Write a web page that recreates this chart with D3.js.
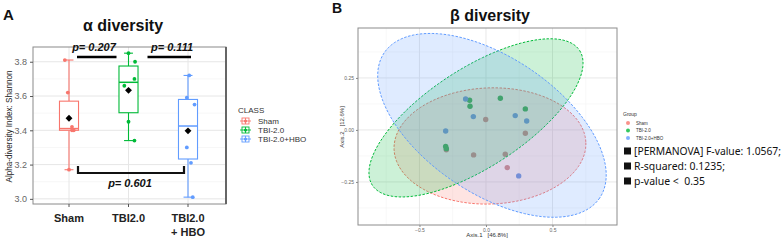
<!DOCTYPE html>
<html><head><meta charset="utf-8">
<script src="https://cdn.jsdelivr.net/npm/d3@7/dist/d3.min.js"></script>
<style>body{margin:0;background:#fff}svg{display:block}text{white-space:pre}</style>
</head><body>
<svg id="c" width="784" height="240"></svg>
<script>
// ---------- DATA ----------
const classes = ["Sham", "TBI-2.0", "TBI-2.0+HBO"];
const classColors = ["#F8766D", "#00BA38", "#619CFF"];
const tickLabelsA = [["Sham"], ["TBI2.0"], ["TBI2.0", "+ HBO"]];
const shamValues = [3.81, 3.62, 3.42, 3.40, 3.40, 3.17];
const tbiValues = [3.85, 3.80, 3.70, 3.66, 3.45, 3.34];
const hboValues = [3.72, 3.59, 3.55, 3.30, 3.21, 3.01];
const shamJitter = [-0.07, -0.02, 0.05, 0.08, 0.05, 0.0];
const tbiJitter = [0.0, 0.11, 0.10, -0.07, 0.0, 0.10];
const hboJitter = [0.02, -0.02, 0.11, -0.02, 0.05, 0.08];
const yTicksA = [3.0, 3.2, 3.4, 3.6, 3.8];
const pLabels = ["p= 0.207", "p= 0.111", "p= 0.601"];

// beta diversity (PCoA)
const shamPC1 = [-0.002, 0.296, -0.093, 0.145, 0.160, -0.298];
const shamPC2 = [0.050, -0.016, -0.120, -0.117, -0.181, -0.095];
const tbiPC1 = [-0.123, -0.120, 0.108, 0.296, -0.303, -0.298];
const tbiPC2 = [0.143, 0.114, 0.152, 0.101, -0.080, -0.090];
const hboPC1 = [-0.153, -0.095, -0.303, 0.220, 0.306, 0.246];
const hboPC2 = [0.149, 0.064, -0.005, 0.069, 0.043, -0.221];
// confidence ellipses: centre and two semi-axis vectors (data units)
const ellipseCentre = [[0.03, -0.077], [-0.075, 0.058], [0.045, 0.022]];
const ellipseAxisU = [[0.721, 0.016], [0.779, 0.324], [0.810, -0.349]];
const ellipseAxisV = [[0.015, -0.279], [0.202, -0.199], [-0.286, -0.271]];
const xTicksB = [-0.5, 0.0, 0.5];
const yTicksB = [-0.25, 0.0, 0.25];
const statLines = ["[PERMANOVA] F-value: 1.0567;", "R-squared: 0.1235;", "p-value <  0.35"];
const statWidths = [147, 91, 71];

const svg = d3.select("#c");
const valuesA = [shamValues, tbiValues, hboValues];
const jitterA = [shamJitter, tbiJitter, hboJitter];

// ---------- PANEL A ----------
const A = {l: 33, r: 226, t: 47, b: 204};
const xA = d3.scalePoint().domain(classes).range([69, 188]);
const stepA = xA.step();
const yA = d3.scaleLinear().domain([2.97, 3.886]).range([A.b, A.t]);

svg.append("text").attr("x", 3).attr("y", 20).text("A")
  .attr("font-family", "Liberation Sans, Arial").attr("font-weight", "bold").attr("font-size", 15).attr("fill", "#111");
svg.append("text").attr("x", 123).attr("y", 31).attr("text-anchor", "middle").text("α diversity")
  .attr("font-family", "Liberation Sans, Arial").attr("font-weight", "bold").attr("font-size", 16).attr("fill", "#111");

const gA = svg.append("g");
gA.append("rect").attr("x", A.l).attr("y", A.t).attr("width", A.r - A.l).attr("height", A.b - A.t).attr("fill", "#fff");
// grid
const minorA = d3.range(3.1, 3.9, 0.2);
gA.selectAll(".mn").data(minorA).join("line").attr("x1", A.l).attr("x2", A.r)
  .attr("y1", d => yA(d)).attr("y2", d => yA(d)).attr("stroke", "#f2f2f2").attr("stroke-width", 0.6);
gA.selectAll(".mj").data(yTicksA).join("line").attr("x1", A.l).attr("x2", A.r)
  .attr("y1", d => yA(d)).attr("y2", d => yA(d)).attr("stroke", "#e6e6e6").attr("stroke-width", 1);
gA.selectAll(".vx").data(classes).join("line").attr("x1", d => xA(d)).attr("x2", d => xA(d))
  .attr("y1", A.t).attr("y2", A.b).attr("stroke", "#e6e6e6").attr("stroke-width", 1);
// border
gA.append("rect").attr("x", A.l).attr("y", A.t).attr("width", A.r - A.l).attr("height", A.b - A.t)
  .attr("fill", "none").attr("stroke", "#8a8a8a").attr("stroke-width", 1);
gA.append("line").attr("x1", A.r).attr("x2", A.r).attr("y1", A.t).attr("y2", A.b).attr("stroke", "#666").attr("stroke-width", 2);
// y axis
const axA = gA.append("g").attr("transform", `translate(${A.l},0)`)
  .call(d3.axisLeft(yA).tickValues(yTicksA).tickFormat(d3.format(".1f")).tickSize(3).tickPadding(3));
axA.select(".domain").remove();
axA.selectAll("line").attr("stroke", "#555");
axA.selectAll("text").attr("font-family", "Liberation Sans, Arial").attr("font-size", 9).attr("fill", "#666");
// x axis ticks
gA.selectAll(".xt").data(classes).join("line").attr("x1", d => xA(d)).attr("x2", d => xA(d))
  .attr("y1", A.b).attr("y2", A.b + 3).attr("stroke", "#555");
classes.forEach((c, i) => {
  const t = gA.append("text").attr("x", xA(c)).attr("y", 222).attr("text-anchor", "middle")
    .attr("font-family", "Liberation Sans, Arial").attr("font-weight", "bold").attr("font-size", 11).attr("fill", "#222");
  tickLabelsA[i].forEach((s, j) => t.append("tspan").attr("x", xA(c)).attr("dy", j === 0 ? 0 : 14).text(s));
});
svg.append("text").attr("transform", `translate(12,${(A.t + A.b) / 2 + 1}) rotate(-90)`).attr("text-anchor", "middle")
  .text("Alpha-diversity Index: Shannon")
  .attr("textLength", 112).attr("lengthAdjust", "spacingAndGlyphs")
  .attr("font-family", "Liberation Sans, Arial").attr("font-size", 9.5).attr("fill", "#222");

// boxes
const bw = 0.16 * stepA, cap = 0.075 * stepA;
classes.forEach((c, i) => {
  const v = valuesA[i].slice().sort(d3.ascending);
  const q1 = d3.quantile(v, 0.25), med = d3.quantile(v, 0.5), q3 = d3.quantile(v, 0.75);
  const lo = d3.min(v), hi = d3.max(v), mean = d3.mean(v);
  const cx = xA(c), col = classColors[i];
  const g = gA.append("g").attr("stroke", col).attr("stroke-width", 1.1).attr("fill", "none");
  g.append("line").attr("x1", cx).attr("x2", cx).attr("y1", yA(hi)).attr("y2", yA(q3));
  g.append("line").attr("x1", cx).attr("x2", cx).attr("y1", yA(q1)).attr("y2", yA(lo));
  g.append("line").attr("x1", cx - cap).attr("x2", cx + cap).attr("y1", yA(hi)).attr("y2", yA(hi));
  g.append("line").attr("x1", cx - cap).attr("x2", cx + cap).attr("y1", yA(lo)).attr("y2", yA(lo));
  g.append("rect").attr("x", cx - bw).attr("width", 2 * bw).attr("y", yA(q3)).attr("height", yA(q1) - yA(q3)).attr("fill", "#fff");
  g.append("line").attr("x1", cx - bw).attr("x2", cx + bw).attr("y1", yA(med)).attr("y2", yA(med)).attr("stroke-width", 1.5);
  gA.selectAll(null).data(valuesA[i]).join("circle")
    .attr("cx", (d, k) => cx + jitterA[i][k] * stepA).attr("cy", d => yA(d)).attr("r", 1.9).attr("fill", col);
  gA.append("path").attr("d", d3.symbol(d3.symbolDiamond2, 30)()).attr("transform", `translate(${cx},${yA(mean)})`).attr("fill", "#000");
});

// significance bars
const pf = {"font-family": "Liberation Sans, Arial", "font-weight": "bold", "font-style": "italic", "font-size": 11, "fill": "#111"};
function ptext(x, y, s) {
  const t = svg.append("text").attr("x", x).attr("y", y).attr("text-anchor", "middle").text(s);
  Object.entries(pf).forEach(([k, v]) => t.attr(k, v));
}
const barY = 57;
svg.append("line").attr("x1", xA(classes[0]) + 8).attr("x2", xA(classes[1]) - 12).attr("y1", barY).attr("y2", barY).attr("stroke", "#000").attr("stroke-width", 2.6);
svg.append("line").attr("x1", xA(classes[1]) + 19).attr("x2", xA(classes[2]) + 3).attr("y1", barY).attr("y2", barY).attr("stroke", "#000").attr("stroke-width", 2.6);
ptext(94, 51, pLabels[0]);
ptext(172, 51, pLabels[1]);
const brY = 173;
svg.append("path").attr("d", `M${xA(classes[0]) + 9},${brY - 7}V${brY}H${xA(classes[2]) - 4}V${brY - 7}`)
  .attr("fill", "none").attr("stroke", "#111").attr("stroke-width", 2.2);
ptext(130, 187, pLabels[2]);

// legend A
const lgA = svg.append("g").attr("transform", "translate(238,0)");
lgA.append("text").attr("x", 0).attr("y", 113).text("CLASS")
  .attr("font-family", "Liberation Sans, Arial").attr("font-size", 8).attr("fill", "#333");
classes.forEach((c, i) => {
  const y = 121 + i * 9, col = classColors[i];
  const g = lgA.append("g").attr("stroke", col).attr("fill", "none").attr("stroke-width", 0.9);
  g.append("line").attr("x1", 2).attr("x2", 13).attr("y1", y).attr("y2", y);
  g.append("rect").attr("x", 4).attr("y", y - 3).attr("width", 7).attr("height", 6).attr("fill", "#fff");
  g.append("line").attr("x1", 7.5).attr("x2", 7.5).attr("y1", y - 3).attr("y2", y + 3);
  g.append("line").attr("x1", 4).attr("x2", 11).attr("y1", y).attr("y2", y);
  lgA.append("circle").attr("cx", 7.5).attr("cy", y).attr("r", 1.6).attr("fill", col);
  lgA.append("text").attr("x", 20).attr("y", y + 3).text(c)
    .attr("font-family", "Liberation Sans, Arial").attr("font-size", 8).attr("fill", "#333");
});

// ---------- PANEL B ----------
const B = {l: 358, r: 617, t: 28, b: 225};
const xB = d3.scaleLinear().domain([-0.962, 0.985]).range([B.l, B.r]);
const yB = d3.scaleLinear().domain([-0.457, 0.49]).range([B.b, B.t]);

svg.append("text").attr("x", 332).attr("y", 13).text("B")
  .attr("font-family", "Liberation Sans, Arial").attr("font-weight", "bold").attr("font-size", 14).attr("fill", "#111");
svg.append("text").attr("x", 490).attr("y", 21).attr("text-anchor", "middle").text("β diversity")
  .attr("font-family", "Liberation Sans, Arial").attr("font-weight", "bold").attr("font-size", 16).attr("fill", "#111");

const gB = svg.append("g");
gB.append("clipPath").attr("id", "clipB").append("rect").attr("x", B.l).attr("y", B.t).attr("width", B.r - B.l).attr("height", B.b - B.t);
const minorXB = [-0.75, -0.25, 0.25, 0.75], minorYB = [-0.375, -0.125, 0.125, 0.375];
gB.selectAll(".mx").data(minorXB).join("line").attr("x1", d => xB(d)).attr("x2", d => xB(d)).attr("y1", B.t).attr("y2", B.b).attr("stroke", "#f3f3f3").attr("stroke-width", 0.6);
gB.selectAll(".my").data(minorYB).join("line").attr("y1", d => yB(d)).attr("y2", d => yB(d)).attr("x1", B.l).attr("x2", B.r).attr("stroke", "#f3f3f3").attr("stroke-width", 0.6);
gB.selectAll(".jx").data(xTicksB).join("line").attr("x1", d => xB(d)).attr("x2", d => xB(d)).attr("y1", B.t).attr("y2", B.b).attr("stroke", "#e8e8e8").attr("stroke-width", 1);
gB.selectAll(".jy").data(yTicksB).join("line").attr("y1", d => yB(d)).attr("y2", d => yB(d)).attr("x1", B.l).attr("x2", B.r).attr("stroke", "#e8e8e8").attr("stroke-width", 1);

const pcs = [[shamPC1, shamPC2], [tbiPC1, tbiPC2], [hboPC1, hboPC2]];
// points
const pCols = ["#c98585", "#1faa48", "#5b93e6"];
pcs.forEach(([px, py], i) => {
  gB.selectAll(null).data(px).join("circle").attr("cx", d => xB(d)).attr("cy", (d, k) => yB(py[k])).attr("r", 2.7).attr("fill", pCols[i]);
});
// ellipses
const line = d3.line().curve(d3.curveLinearClosed);
const ts = d3.range(0, 2 * Math.PI, Math.PI / 60);
const eg = gB.append("g").attr("clip-path", "url(#clipB)");
classes.forEach((c, i) => {
  const [cx, cy] = ellipseCentre[i], u = ellipseAxisU[i], v = ellipseAxisV[i];
  const pts = ts.map(t => [xB(cx + u[0] * Math.cos(t) + v[0] * Math.sin(t)), yB(cy + u[1] * Math.cos(t) + v[1] * Math.sin(t))]);
  eg.append("path").attr("d", line(pts)).attr("fill", classColors[i]).attr("fill-opacity", 0.2)
    .attr("stroke", classColors[i]).attr("stroke-width", 1).attr("stroke-dasharray", "2.5,1.5");
});
gB.append("rect").attr("x", B.l).attr("y", B.t).attr("width", B.r - B.l).attr("height", B.b - B.t)
  .attr("fill", "none").attr("stroke", "#8c8c8c").attr("stroke-width", 1);
const axBy = gB.append("g").attr("transform", `translate(${B.l},0)`)
  .call(d3.axisLeft(yB).tickValues(yTicksB).tickFormat(d3.format(".2f")).tickSize(2).tickPadding(2));
const axBx = gB.append("g").attr("transform", `translate(0,${B.b})`)
  .call(d3.axisBottom(xB).tickValues(xTicksB).tickFormat(d3.format(".1f")).tickSize(2).tickPadding(1));
[axBy, axBx].forEach(a => {
  a.select(".domain").remove();
  a.selectAll("line").attr("stroke", "#888");
  a.selectAll("text").attr("font-family", "Liberation Sans, Arial").attr("font-size", 5).attr("fill", "#666");
});
svg.append("text").attr("x", 487).attr("y", 237).attr("text-anchor", "middle").text("Axis.1   [46.8%]")
  .attr("font-family", "Liberation Sans, Arial").attr("font-size", 6).attr("fill", "#333");
svg.append("text").attr("transform", `translate(344,127) rotate(-90)`).attr("text-anchor", "middle").text("Axis.2   [12.6%]")
  .attr("font-family", "Liberation Sans, Arial").attr("font-size", 6).attr("fill", "#333");

// legend B
const lgB = svg.append("g").attr("transform", "translate(623,0)");
lgB.append("text").attr("x", 0).attr("y", 116).text("Group").attr("font-family", "Liberation Sans, Arial").attr("font-size", 5).attr("fill", "#333");
classes.forEach((c, i) => {
  const y = 123 + i * 7.5;
  lgB.append("circle").attr("cx", 5).attr("cy", y).attr("r", 2).attr("fill", classColors[i]).attr("fill-opacity", 0.8);
  lgB.append("text").attr("x", 13).attr("y", y + 1.6).text(c).attr("font-family", "Liberation Sans, Arial").attr("font-size", 4.5).attr("fill", "#333");
});

// stats text
statLines.forEach((s, i) => {
  const y = 151 + i * 15;
  svg.append("rect").attr("x", 624).attr("y", y - 3.5).attr("width", 7).attr("height", 7).attr("fill", "#111");
  svg.append("text").attr("x", 634).attr("y", y + 3.7).text(s)
    .attr("textLength", statWidths[i]).attr("lengthAdjust", "spacingAndGlyphs")
    .attr("font-family", "Noto Sans, Open Sans, Arial").attr("font-size", 10.5).attr("fill", "#111");
});
</script>
</body></html>
